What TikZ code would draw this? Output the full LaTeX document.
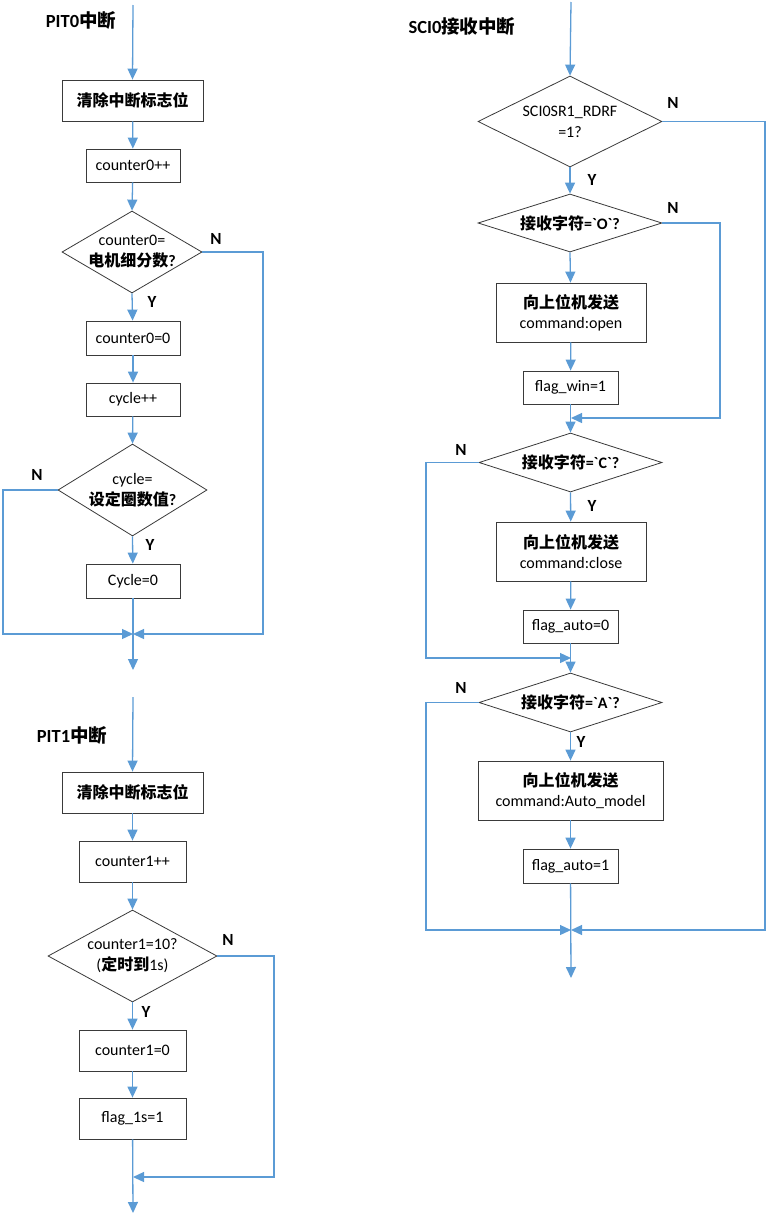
\documentclass[tikz,border=0pt]{standalone}
\usepackage{fontspec}
\setmainfont{Carlito}
\newfontfamily\cjk{Noto Sans CJK SC}
\newfontfamily\latn{Carlito}
\usetikzlibrary{arrows.meta,shapes.geometric}
\definecolor{lblue}{HTML}{5B9BD5}
\definecolor{boxc}{HTML}{3A3A3A}
\newcommand{\zh}[1]{{\cjk\bfseries #1}}
\newcommand{\gr}{{\latn\bfseries\symbol{96}}}
\tikzset{
  conn/.style={draw=lblue, line width=1.3pt},
  arr/.style={conn, -{Triangle[width=10pt,length=11pt]}},
  box/.style={draw=boxc, line width=0.8pt, fill=white, inner sep=0pt, align=center,
    font=\fontsize{16}{20}\selectfont},
  dia/.style={diamond, draw=boxc, line width=0.8pt, fill=white, inner sep=0pt},
  dtext/.style={align=center, inner sep=0pt, font=\fontsize{16}{21}\selectfont},
  yn/.style={font=\fontsize{17}{20}\selectfont\bfseries, inner sep=0pt},
  ttl/.style={font=\fontsize{18.5}{22}\selectfont\bfseries, inner sep=0pt}
}
\begin{document}
\begin{tikzpicture}[x=1pt,y=-1pt]
\useasboundingbox (0,0) rectangle (767,1216);

% ---------------- PIT0 ----------------
\node[ttl] (t0) at (81,20) {PIT0\zh{中断}};
\coordinate (s1) at (133,5);
\node[box, minimum width=141pt, minimum height=41pt] (b1) at (132.5,100.5) {\zh{清除中断标志位}};
\node[box, minimum width=94pt, minimum height=33pt] (b2) at (133,165.5) {counter0++};
\node[dia, minimum width=140pt, minimum height=82pt] (d1) at (132,252) {};
\node[dtext] (d1t) at (d1) {counter0=\\\zh{电机细分数}\textbf{?}};
\node[box, minimum width=94pt, minimum height=34pt] (b3) at (133,338) {counter0=0};
\node[box, minimum width=94pt, minimum height=33pt] (b4) at (133,399.5) {cycle++};
\node[dia, minimum width=149pt, minimum height=92pt] (d2) at (132.5,490) {};
\node[dtext] (d2t) at (d2) {cycle=\\\zh{设定圈数值}\textbf{?}};
\node[box, minimum width=94pt, minimum height=34pt] (b5) at (133,581) {Cycle=0};
\coordinate (m1) at (133,634);
\coordinate (e1) at (133,670);
\coordinate (r1) at (263,634);
\coordinate (l1) at (3,634);

\draw[arr] (s1) -- (b1.north);
\draw[arr] (b1) -- (b2);
\draw[arr] (b2) -- (d1.north);
\draw[arr] (d1.south) -- (b3);
\draw[arr] (b3) -- (b4);
\draw[arr] (b4) -- (d2.north);
\draw[arr] (d2.south) -- (b5);
\draw[arr] (b5) -- (e1);
\draw[arr] (d1.east) -| (r1) -- (m1);
\draw[arr] (d2.west) -| (l1) -- (m1);
\node[yn] (n1) at (216,239) {N};
\node[yn] (y1) at (152,302) {Y};
\node[yn] (n2) at (37,475) {N};
\node[yn] (y2) at (150,545) {Y};

% ---------------- PIT1 ----------------
\node[ttl] (t1) at (72,735) {PIT1\zh{中断}};
\coordinate (s2) at (133,697);
\node[box, minimum width=141pt, minimum height=41pt] (c1) at (132.5,792.5) {\zh{清除中断标志位}};
\node[box, minimum width=107pt, minimum height=41pt] (c2) at (132.5,861.5) {counter1++};
\node[dia, minimum width=169pt, minimum height=92pt] (d3) at (132.5,956) {};
\node[dtext] (d3t) at (d3) {counter1=10?\\(\zh{定时到}1s)};
\node[box, minimum width=107pt, minimum height=41pt] (c3) at (132.5,1050.5) {counter1=0};
\node[box, minimum width=107pt, minimum height=41pt] (c4) at (132.5,1118.5) {flag\_1s=1};
\coordinate (m2) at (133,1177);
\coordinate (e2) at (133,1213);
\coordinate (r2) at (274,1177);

\draw[arr] (s2) -- (c1.north);
\draw[arr] (c1) -- (c2);
\draw[arr] (c2) -- (d3.north);
\draw[arr] (d3.south) -- (c3);
\draw[arr] (c3) -- (c4);
\draw[arr] (c4) -- (e2);
\draw[arr] (d3.east) -| (r2) -- (m2);
\node[yn] (n3) at (228,940) {N};
\node[yn] (y3) at (146,1012) {Y};

% ---------------- SCI0 ----------------
\node[ttl] (t2) at (462,26) {SCI0\zh{接收中断}};
\coordinate (s3) at (571,2);
\node[dia, minimum width=184pt, minimum height=91pt] (D1) at (570,121.5) {};
\node[dtext] (D1t) at (D1) {SCI0SR1\_RDRF\\=1?};
\node[dia, minimum width=184pt, minimum height=58pt] (D2) at (570,223) {};
\node[dtext] (D2t) at (D2) {\zh{接收字符}\textbf{=\gr O\gr ?}};
\node[box, minimum width=150pt, minimum height=59pt] (f1) at (571,312.5) {\zh{向上位机发送}\\command:open};
\node[box, minimum width=95pt, minimum height=33pt] (f2) at (570.5,387.5) {flag\_win=1};
\coordinate (m3) at (571,418);
\coordinate (r3) at (720,418);
\node[dia, minimum width=183pt, minimum height=59pt] (D3) at (570.5,462.5) {};
\node[dtext] (D3t) at (D3) {\zh{接收字符}\textbf{=\gr C\gr ?}};
\node[box, minimum width=150pt, minimum height=59pt] (f3) at (571,551.5) {\zh{向上位机发送}\\command:close};
\node[box, minimum width=95pt, minimum height=33pt] (f4) at (570.5,626.5) {flag\_auto=0};
\coordinate (m4) at (571,658);
\coordinate (l3) at (426,658);
\node[dia, minimum width=183pt, minimum height=59pt] (D4) at (570.5,702.5) {};
\node[dtext] (D4t) at (D4) {\zh{接收字符}\textbf{=\gr A\gr ?}};
\node[box, minimum width=185pt, minimum height=59pt] (f5) at (570.5,790.5) {\zh{向上位机发送}\\command:Auto\_model};
\node[box, minimum width=95pt, minimum height=34pt] (f6) at (570.5,866) {flag\_auto=1};
\coordinate (m5) at (571,930);
\coordinate (e3) at (571,978);
\coordinate (r4) at (765,930);
\coordinate (l4) at (426,930);

\draw[arr] (s3) -- (D1.north);
\draw[arr] (D1.south) -- (D2.north);
\draw[arr] (D2.south) -- (f1);
\draw[arr] (f1) -- (f2);
\draw[arr] (f2) -- (D3.north);
\draw[arr] (D2.east) -| (r3) -- (m3);
\draw[arr] (D3.south) -- (f3);
\draw[arr] (f3) -- (f4);
\draw[arr] (f4) -- (D4.north);
\draw[arr] (D3.west) -| (l3) -- (m4);
\draw[arr] (D4.south) -- (f5);
\draw[arr] (f5) -- (f6);
\draw[arr] (f6) -- (e3);
\draw[arr] (D4.west) -| (l4) -- (m5);
\draw[arr] (D1.east) -| (r4) -- (m5);
\node[yn] (n4) at (673,103) {N};
\node[yn] (y4) at (592,180) {Y};
\node[yn] (n5) at (673,208) {N};
\node[yn] (n6) at (461,450) {N};
\node[yn] (y5) at (592,506) {Y};
\node[yn] (n7) at (461,688) {N};
\node[yn] (y6) at (581,742) {Y};
\end{tikzpicture}
\end{document}
